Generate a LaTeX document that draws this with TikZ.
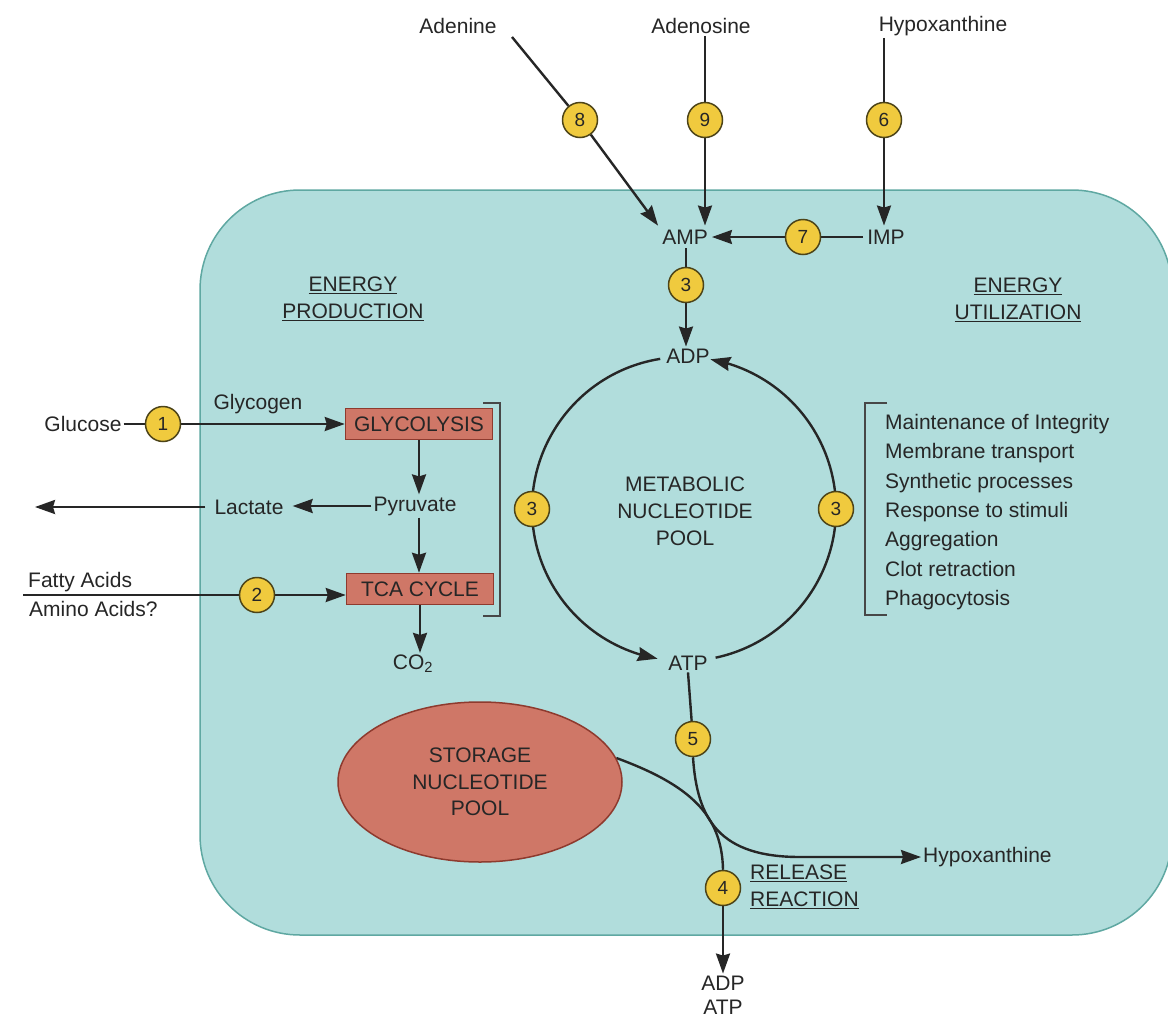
\documentclass[tikz,border=0pt]{standalone}
\usepackage{fontspec}
\setmainfont{Liberation Sans}
\usetikzlibrary{arrows.meta,shapes.geometric,calc,bending}
\definecolor{cellfill}{HTML}{B1DDDC}
\definecolor{celldraw}{HTML}{5FA8A2}
\definecolor{salmon}{HTML}{CF7767}
\definecolor{salmondraw}{HTML}{8E3A2E}
\definecolor{badgefill}{HTML}{F0CA3E}
\definecolor{badgedraw}{HTML}{4D4418}
\definecolor{ink}{HTML}{262626}
\pgfdeclarelayer{bg}
\pgfdeclarelayer{lines}
\pgfsetlayers{bg,lines,main}
\begin{document}
\begin{tikzpicture}[x=1pt,y=-1pt,
  font=\fontsize{21}{27}\selectfont,
  lbl/.style={inner sep=2pt, text=ink},
  badge/.style={circle, fill=badgefill, draw=badgedraw, line width=1.5pt, minimum size=35pt, inner sep=0pt, font=\fontsize{19}{19}\selectfont, text=ink},
  conn/.style={draw=ink, line width=2.4pt},
  arr/.style={conn, -{Stealth[length=20pt,width=14pt,inset=2pt]}},
  procbox/.style={rectangle, fill=salmon, draw=salmondraw, line width=1.5pt, minimum width=147pt, minimum height=31pt, inner sep=0pt, text=ink},
  brack/.style={draw=ink!85, line width=1.6pt}
]
\useasboundingbox (0,0) rectangle (1168,1020);
\begin{pgfonlayer}{bg}
\fill[white] (0,0) rectangle (1168,1020);
\draw[fill=cellfill, draw=celldraw, line width=1.5pt, rounded corners=100pt] (200,190) rectangle (1172,935);
\end{pgfonlayer}

% top
\node[lbl] (adenine) at (458,26) {Adenine};
\node[lbl] (adenosine) at (701,26) {Adenosine};
\node[lbl] (hyptop) at (943,26) {Hypoxanthine};
\coordinate (adstart) at (512,37);
\node[badge] (b8) at (580,120) {8};
\node[badge] (b9) at (705,120) {9};
\node[badge] (b6) at (884,120) {6};
\node[lbl, inner sep=4pt] (amp) at (685,237) {AMP};
\node[lbl, inner sep=4pt] (imp) at (886,237) {IMP};
\node[badge] (b7) at (803,237) {7};
\node[badge] (b3t) at (686,285) {3};
\node[lbl] (adp) at (688,356) {ADP};
\node[lbl] (atp) at (688,663) {ATP};

% headings
\node[lbl, align=center] (eprod) at (353,299) {\underline{ENERGY}\\\underline{PRODUCTION}};
\node[lbl, align=center] (eutil) at (1018,300) {\underline{ENERGY}\\\underline{UTILIZATION}};

% metabolic pool
\coordinate (C) at (684,509);
\node[lbl, align=center] (meta) at (685,511) {METABOLIC\\NUCLEOTIDE\\POOL};
\node[badge] (b3l) at (532,509) {3};
\node[badge] (b3r) at (836,509) {3};

% left side
\node[lbl] (glu) at (83,424) {Glucose};
\node[badge] (b1) at (163,424) {1};
\node[procbox] (glyc) at (419,424) {GLYCOLYSIS};
\node[lbl] (glycogen) at (258,404) {Glycogen};
\node[lbl] (pyr) at (415,506) {Pyruvate};
\node[lbl, inner xsep=9pt] (lac) at (249,507) {Lactate};
\coordinate (lacout) at (35,507);
\node[procbox] (tca) at (420,589) {TCA CYCLE};
\node[lbl] (co2) at (413,664) {CO\textsubscript{2}};
\node[lbl, anchor=west] (fa) at (26,582) {Fatty Acids};
\node[lbl, anchor=west] (aa) at (27,609) {Amino Acids?};
\coordinate (fain) at (23,595);
\node[badge] (b2) at (257,595) {2};

% right list
\node[lbl, anchor=west, align=left, font=\fontsize{21}{29.3}\selectfont] (uses) at (883,512)
  {Maintenance of Integrity\\Membrane transport\\Synthetic processes\\Response to stimuli\\Aggregation\\Clot retraction\\Phagocytosis};

% bottom
\node[ellipse, fill=salmon, draw=salmondraw, line width=1.5pt, minimum width=284pt, minimum height=160pt, inner sep=0pt, align=center, text=ink, font=\fontsize{21}{26.5}\selectfont] (stor) at (480,782) {STORAGE\\NUCLEOTIDE\\POOL};
\node[badge] (b5) at (693,739) {5};
\node[badge] (b4) at (723,888) {4};
\node[lbl, align=center, font=\fontsize{21}{24}\selectfont] (relout) at (723,995) {ADP\\ATP};
\node[lbl, anchor=west] (hypbot) at (921,857) {Hypoxanthine};
\node[lbl, anchor=west, align=left] (rel) at (748,887) {\underline{RELEASE}\\\underline{REACTION}};

\begin{pgfonlayer}{lines}
\draw[conn] (adstart) -- (b8);
\draw[arr] (b8) -- (amp.north west);
\draw[conn] (b9 |- adenosine.south) -- (b9);
\draw[arr] (b9) -- (b9 |- amp.north);
\draw[conn] (b6 |- hyptop.south) -- (b6);
\draw[arr] (b6) -- (b6 |- imp.north);
\draw[conn] (imp.west) -- (b7);
\draw[arr] (b7) -- (amp.east);
\draw[conn] (b3t |- amp.south) -- (b3t);
\draw[arr] (b3t) -- (b3t |- adp.north);
\draw[arr] ($(C)+(99:152pt)$) arc[start angle=99, end angle=260, radius=152pt];
\draw[arr] ($(C)+(-78:152pt)$) arc[start angle=-78, end angle=80, radius=152pt];
\draw[conn] (glu.east) -- (b1);
\draw[arr] (b1) -- (b1 -| glyc.west);
\draw[arr] (glyc.south) -- (glyc.south |- pyr.north);
\draw[arr] (pyr.west) -- (pyr.west -| lac.east);
\draw[arr] (lac.west) -- (lacout);
\draw[arr] (glyc.south |- pyr.south) -- (glyc.south |- tca.north);
\draw[arr] (tca.south) -- (tca.south |- co2.north);
\draw[conn] (fain) -- (b2);
\draw[arr] (b2) -- (b2 -| tca.west);
\draw[brack] (483,403) -- (500,403) -- (500,616) -- (483,616);
\draw[brack] (887,403) -- (865,403) -- (865,615) -- (887,615);
\draw[conn] (atp.south) -- (b5);
\draw[arr] (b5.south) .. controls (697,820) and (720,857) .. (800,857) -- (hypbot.west);
\draw[conn] (stor.10) .. controls (690,785) and (722,815) .. (b4.north);
\draw[arr] (b4.south) -- (relout.north);
\end{pgfonlayer}
\end{tikzpicture}
\end{document}
